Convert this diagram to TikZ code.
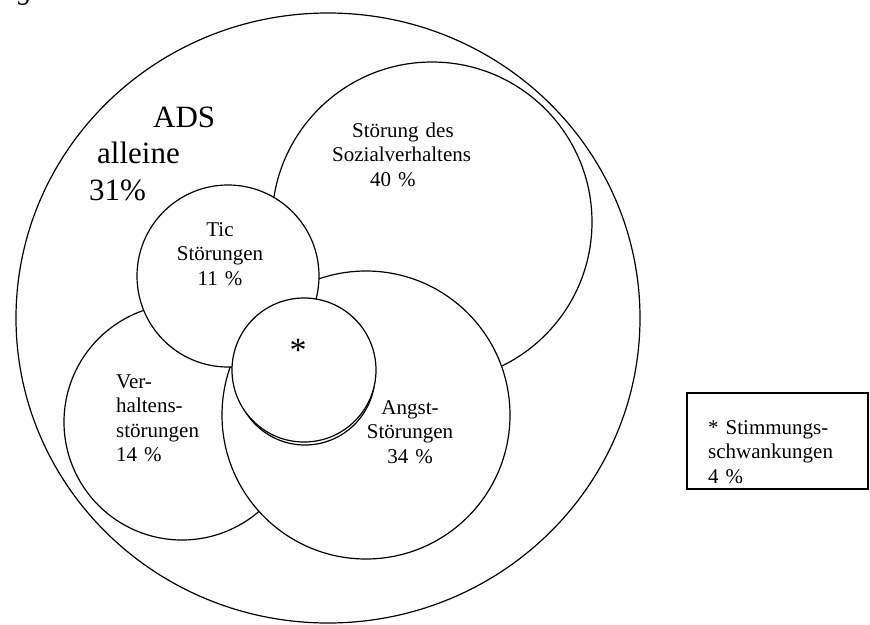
\documentclass[tikz,border=0pt]{standalone}
\usepackage{fontspec}
\setmainfont{Liberation Serif}
\usepackage{tikz}
\usetikzlibrary{shapes.geometric}
\tikzset{
  ring/.style    = {circle, draw, fill=white, line width=1.2pt, inner sep=0pt, outer sep=0pt},
  hull/.style    = {ellipse, draw, fill=white, line width=1.2pt, inner sep=0pt, outer sep=0pt},
  lbl/.style     = {inner sep=0pt, anchor=base, text width=150pt, align=center,
                    font=\fontsize{21}{24.5}\selectfont},
  lblleft/.style = {inner sep=0pt, anchor=base west, text width=150pt, align=left,
                    font=\fontsize{21}{24.5}\selectfont},
  biglbl/.style  = {inner sep=0pt, anchor=base west, text width=150pt, align=left,
                    font=\fontsize{31}{36.5}\selectfont},
  legend/.style  = {rectangle, draw, line width=1.2pt, inner sep=0pt,
                    minimum width=181pt, minimum height=96pt},
}
\begin{document}
\begin{tikzpicture}[x=1pt, y=-1pt]
  \useasboundingbox (0,0) rectangle (870,624);

  % caption fragment, cut off at the top
  \node[inner sep=0pt, anchor=base, font=\fontsize{28}{30}\selectfont\itshape] (cap) at (25,-1) {g};

  % sets, back to front
  \node[hull, minimum width=624pt, minimum height=610pt] (ads) at (328,318) {};
  \node[ring, minimum size=320pt] (sozial) at (432,222) {};
  \node[ring, minimum size=236pt] (verh) at (182,422) {};
  \node[ring, minimum size=288pt] (angst) at (366,415) {};
  \node[ring, minimum size=182pt] (tic) at (228,276) {};
  \node[ring, minimum size=140pt] (moodb) at (305,375) {};
  \node[ring, minimum size=144pt] (mood) at (304,370) {};

  % labels
  \node[biglbl] (adstxt) at (89,127) {\hspace*{64pt}ADS\\\hspace*{8pt}alleine\\31\%};
  \node[lblleft] (soztxt) at (332,137) {\hspace*{20pt}Störung des\\Sozialverhaltens\\\hspace*{38pt}40 \%};
  \node[lbl] (tictxt) at (220,236) {Tic\\Störungen\\11 \%};
  \node[lblleft] (verhtxt) at (116,388) {Ver-\\haltens-\\störungen\\14 \%};
  \node[lbl] (angsttxt) at (410,414) {Angst-\\Störungen\\34 \%};
  \node[inner sep=0pt, font=\fontsize{34}{36}\selectfont] (star) at (298,350) {*};

  % legend
  \node[legend] (leg) at (777.5,441) {};
  \node[lblleft] (legtxt) at (708,434) {* Stimmungs-\\schwankungen\\4 \%};
\end{tikzpicture}
\end{document}
